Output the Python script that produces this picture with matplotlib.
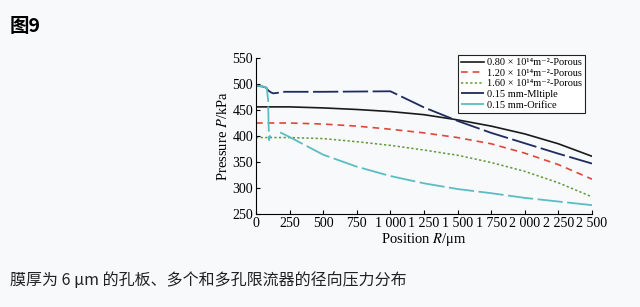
import matplotlib

matplotlib.use("Agg")

import matplotlib.pyplot as plt
import numpy as np

# radial positions (um) and pressures (kPa)
r_porous = [0, 250, 500, 750, 1000, 1250, 1500, 1750, 2000, 2250, 2500]
p_080 = [456, 456, 454, 451, 447, 441, 431, 419, 404, 385, 361]
p_120 = [425, 425, 423, 419, 413, 406, 397, 385, 367, 345, 317]
p_160 = [397, 397, 395, 389, 382, 373, 363, 349, 332, 310, 283]

r_multi = [0, 50, 75, 90, 110, 130, 160, 200, 500, 1000, 1250, 1500, 1750, 2000, 2250, 2500]
p_multi = [497, 495, 493, 488, 484, 482, 483, 485, 485, 486, 455, 429, 406, 386, 366, 347]

r_orif = [0, 40, 80, 90, 94, 98, 102, 112, np.nan, 180, 250, 500, 750, 1000, 1250, 1500, 1750, 2000, 2250, 2500]
p_orif = [497, 496, 493, 470, 420, 392, 400, 398, np.nan, 407, 398, 364, 341, 323, 309, 298, 290, 281, 274, 267]

labels = [
    "0.80 × 10¹⁴m⁻²-Porous",
    "1.20 × 10¹⁴m⁻²-Porous",
    "1.60 × 10¹⁴m⁻²-Porous",
    "0.15 mm-Mltiple",
    "0.15 mm-Orifice",
]
xticks = [0, 250, 500, 750, 1000, 1250, 1500, 1750, 2000, 2250, 2500]
xticklabels = ["0", "250", "500", "750", "1 000", "1 250", "1 500", "1 750", "2 000", "2 250", "2 500"]
yticks = [250, 300, 350, 400, 450, 500, 550]

plt.rcParams["font.family"] = ["Liberation Serif", "DejaVu Serif"]
plt.rcParams["mathtext.fontset"] = "stix"

bg = "#f7f9fa"
fig = plt.figure(figsize=(6.4, 3.07), dpi=100, facecolor=bg)
ax = fig.add_axes([256 / 640, 1 - 214 / 307, (592 - 256) / 640, (214 - 58) / 307])
ax.set_facecolor(bg)

ax.plot(r_porous, p_080, color="#1a1a1a", lw=1.2, label=labels[0])
ax.plot(r_porous, p_120, color="#e0473c", lw=1.2, dashes=(4, 3), label=labels[1])
ax.plot(r_porous, p_160, color="#5f9a3a", lw=1.1, dashes=(1.5, 1.5), label=labels[2])
ax.plot(r_multi, p_multi, color="#1e2b5e", lw=1.3, dashes=(14, 2.5), label=labels[3])
ax.plot(r_orif, p_orif, color="#5bbdc2", lw=1.3, dashes=(14, 2.5), label=labels[4])

ax.set_xlim(0, 2500)
ax.set_ylim(250, 550)
ax.set_xticks(xticks)
ax.set_xticklabels(xticklabels)
ax.set_yticks(yticks)
ax.tick_params(direction="in", length=3, width=0.8, labelsize=10, pad=2)
for s in ("top", "right"):
    ax.spines[s].set_visible(False)
for s in ("left", "bottom"):
    ax.spines[s].set_linewidth(0.8)
ax.set_xlabel(r"Position $\it{R}$/μm", fontsize=10.5, labelpad=1)
ax.set_ylabel(r"Pressure $\it{P}$/kPa", fontsize=10.5, labelpad=2)

leg = ax.legend(
    loc="upper right",
    bbox_to_anchor=(585 / 640, 1 - 55 / 307),
    bbox_transform=fig.transFigure,
    fontsize=7.5,
    frameon=True,
    fancybox=False,
    framealpha=1,
    edgecolor="#222222",
    handlelength=2.2,
    handletextpad=0.3,
    labelspacing=0.12,
    borderpad=0.3,
    borderaxespad=0,
)
leg.get_frame().set_linewidth(0.8)

fig.text(10 / 640, 1 - 27 / 307, "图9", fontsize=14, fontweight="bold",
         family=["Noto Sans CJK SC", "DejaVu Sans"], va="center", ha="left")
fig.text(10 / 640, 1 - 280 / 307, "膜厚为 6 μm 的孔板、多个和多孔限流器的径向压力分布", fontsize=11.5,
         family=["Noto Sans CJK SC", "DejaVu Sans"], va="center", ha="left", color="#222222")

fig.savefig("out.png", dpi=100, facecolor=bg)
